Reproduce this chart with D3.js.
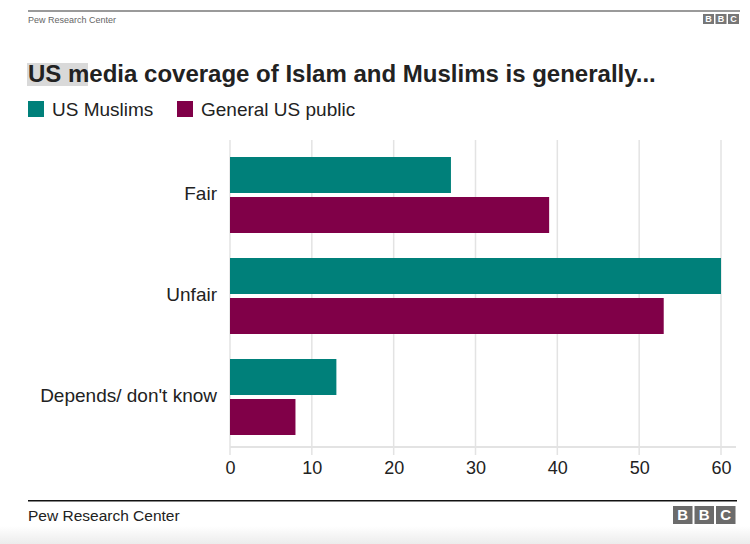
<!DOCTYPE html>
<html><head><meta charset="utf-8">
<script src="https://cdn.jsdelivr.net/npm/d3@7"></script>
<style>body{margin:0;background:#fff;}svg{display:block;font-family:"Liberation Sans",Arial,Helvetica,sans-serif;}</style>
</head><body><svg id="c" width="750" height="544"></svg>
<script>
const categories = ["Fair", "Unfair", "Depends/ don't know"];
const seriesNames = ["US Muslims", "General US public"];
const usMuslims = [27, 60, 13];
const generalPublic = [39, 53, 8];
const tickValues = [0, 10, 20, 30, 40, 50, 60];
const colors = ["#00807a", "#800048"];

const svg = d3.select("#c");
// bottom gradient
const defs = svg.append("defs");
const g1 = defs.append("linearGradient").attr("id","bg").attr("x1",0).attr("y1",0).attr("x2",0).attr("y2",1);
g1.append("stop").attr("offset","0").attr("stop-color","#fff");
g1.append("stop").attr("offset","1").attr("stop-color","#ececec");
svg.append("rect").attr("x",0).attr("y",526).attr("width",750).attr("height",18).attr("fill","url(#bg)");

// header
svg.append("rect").attr("x",28).attr("y",10).attr("width",712).attr("height",2).attr("fill","#9a9a9a");
svg.append("text").attr("x",28).attr("y",23).attr("font-size",9).attr("fill","#666").text("Pew Research Center");
function bbc(x, y, w, h, gap, fs, fill){
  ["B","B","C"].forEach((t,i)=>{
    svg.append("rect").attr("x",x+i*(w+gap)).attr("y",y).attr("width",w).attr("height",h).attr("fill",fill);
    svg.append("text").attr("x",x+i*(w+gap)+w/2).attr("y",y+h/2).attr("dy","0.36em").attr("text-anchor","middle")
      .attr("font-size",fs).attr("font-weight","bold").attr("fill","#fff").text(t);
  });
}
bbc(703, 14, 11, 10, 1.5, 9, "#777");

// title
svg.append("rect").attr("x",27).attr("y",63).attr("width",61).attr("height",23).attr("fill","#d9d9d9");
svg.append("text").attr("x",28).attr("y",82).attr("font-size",24).attr("font-weight","bold").attr("fill","#222")
  .text("US media coverage of Islam and Muslims is generally...");

// legend
const legX = [28, 177];
seriesNames.forEach((n,i)=>{
  svg.append("rect").attr("x",legX[i]).attr("y",101).attr("width",16).attr("height",16).attr("fill",colors[i]);
  svg.append("text").attr("x",legX[i]+24).attr("y",116).attr("font-size",19).attr("fill","#222").text(n);
});

// chart
const x = d3.scaleLinear().domain([0,60]).range([230,721]);
const y = d3.scaleBand().domain(categories).range([146.9,445.1]).paddingInner(25/101).paddingOuter(0.1);
const ySub = d3.scaleBand().domain(seriesNames).range([0,y.bandwidth()]).paddingInner(0.1);

// gridlines
svg.append("g").selectAll("line").data(tickValues).join("line")
  .attr("x1",d=>x(d)).attr("x2",d=>x(d)).attr("y1",140).attr("y2",455)
  .attr("stroke","#e3e3e3").attr("stroke-width",1.5);
svg.append("line").attr("x1",230).attr("x2",736).attr("y1",447).attr("y2",447).attr("stroke","#e3e3e3").attr("stroke-width",2);

const data = categories.map((c,i)=>({cat:c, vals:[usMuslims[i], generalPublic[i]]}));
const grp = svg.append("g").selectAll("g").data(data).join("g").attr("transform",d=>`translate(0,${y(d.cat)})`);
grp.selectAll("rect").data(d=>d.vals.map((v,i)=>({v, s:seriesNames[i], i}))).join("rect")
  .attr("x",x(0)).attr("y",d=>ySub(d.s)).attr("width",d=>x(d.v)-x(0)).attr("height",ySub.bandwidth())
  .attr("fill",d=>colors[d.i]);

// y labels
svg.append("g").selectAll("text").data(categories).join("text")
  .attr("x",217).attr("y",d=>y(d)+y.bandwidth()/2 - 2).attr("dy","0.35em").attr("text-anchor","end")
  .attr("font-size",19).attr("fill","#222").text(d=>d);

// x axis
const ax = svg.append("g").attr("transform","translate(0,455)")
  .call(d3.axisBottom(x).tickValues(tickValues).tickSize(0).tickPadding(6).tickFormat(d3.format("d")));
ax.select(".domain").remove();
ax.selectAll("text").attr("font-size",18).attr("fill","#222").attr("font-family","Liberation Sans, Arial, sans-serif");

// footer
svg.append("rect").attr("x",28).attr("y",500).attr("width",709).attr("height",1.5).attr("fill","#111");
svg.append("text").attr("x",28).attr("y",521).attr("font-size",15.5).attr("fill","#222").text("Pew Research Center");
bbc(673, 506, 19.5, 18, 2, 15, "#6b6b6b");
</script></body></html>
